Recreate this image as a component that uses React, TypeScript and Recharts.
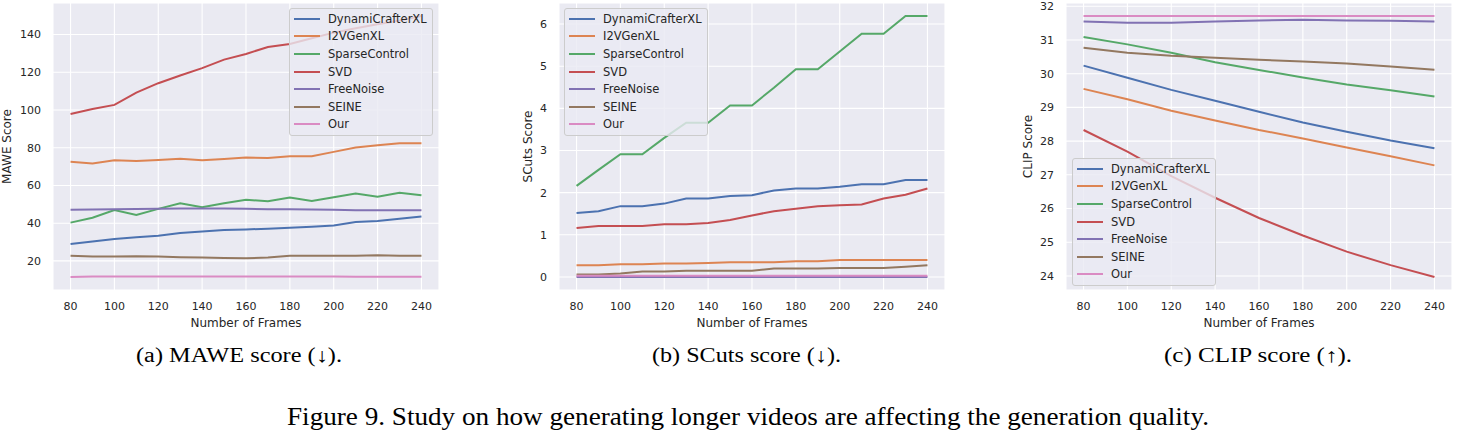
import React from "react";
import { LineChart, Line, XAxis, YAxis, CartesianGrid, Legend } from "recharts";

// x values (number of frames)
const frames = [80, 90, 100, 110, 120, 130, 140, 150, 160, 170, 180, 190, 200, 210, 220, 230, 240];
const clipFrames = [80, 100, 120, 140, 160, 180, 200, 220, 240];
const frameTicks = [80, 100, 120, 140, 160, 180, 200, 220, 240];

const seriesNames = ["DynamiCrafterXL", "I2VGenXL", "SparseControl", "SVD", "FreeNoise", "SEINE", "Our"];
const seriesColors = ["#4C72B0", "#DD8452", "#55A868", "#C44E52", "#8172B3", "#937860", "#DA8BC3"];

// (a) MAWE
const maweDyn = [29.0, 30.3, 31.6, 32.6, 33.3, 34.8, 35.6, 36.4, 36.7, 37.1, 37.6, 38.1, 38.8, 40.6, 41.2, 42.4, 43.6];
const maweI2v = [72.6, 71.7, 73.3, 73.0, 73.5, 74.2, 73.3, 74.0, 74.8, 74.6, 75.5, 75.5, 77.8, 80.1, 81.3, 82.4, 82.4];
const maweSparse = [40.3, 42.9, 47.0, 44.4, 47.6, 50.6, 48.4, 50.6, 52.4, 51.6, 53.6, 51.8, 53.8, 55.7, 54.0, 56.1, 54.8];
const maweSvd = [97.9, 100.5, 102.7, 109.2, 114.2, 118.3, 122.2, 126.7, 129.7, 133.4, 135.0, 138.0, 141.0, 143.3, 145.5, 147.4, 149.8];
const maweFree = [47.1, 47.2, 47.4, 47.5, 47.6, 47.8, 47.8, 47.8, 47.6, 47.4, 47.4, 47.2, 47.1, 46.9, 46.8, 46.8, 46.8];
const maweSeine = [22.8, 22.3, 22.3, 22.5, 22.3, 22.0, 21.8, 21.6, 21.4, 21.8, 22.7, 22.7, 22.7, 22.8, 23.0, 22.8, 22.7];
const maweOur = [11.5, 11.8, 11.8, 11.8, 11.7, 11.7, 11.7, 11.8, 11.8, 11.8, 11.8, 11.8, 11.7, 11.6, 11.6, 11.6, 11.6];
const maweTicks = [20, 40, 60, 80, 100, 120, 140];

// (b) SCuts
const scDyn = [1.52, 1.56, 1.68, 1.68, 1.74, 1.86, 1.86, 1.92, 1.94, 2.05, 2.1, 2.1, 2.14, 2.2, 2.2, 2.3, 2.3];
const scI2v = [0.28, 0.28, 0.3, 0.3, 0.32, 0.32, 0.33, 0.35, 0.35, 0.35, 0.37, 0.37, 0.4, 0.4, 0.4, 0.4, 0.4];
const scSparse = [2.16, 2.54, 2.91, 2.91, 3.3, 3.66, 3.66, 4.07, 4.07, 4.49, 4.93, 4.93, 5.35, 5.77, 5.77, 6.19, 6.19];
const scSvd = [1.16, 1.21, 1.21, 1.21, 1.25, 1.25, 1.28, 1.35, 1.46, 1.56, 1.62, 1.68, 1.7, 1.72, 1.86, 1.95, 2.1];
const scFree = [0, 0, 0, 0, 0, 0, 0, 0, 0, 0, 0, 0, 0, 0, 0, 0, 0];
const scSeine = [0.06, 0.06, 0.08, 0.13, 0.13, 0.15, 0.15, 0.15, 0.15, 0.2, 0.2, 0.2, 0.21, 0.21, 0.21, 0.24, 0.28];
const scOur = [0.03, 0.03, 0.03, 0.03, 0.03, 0.03, 0.03, 0.03, 0.03, 0.03, 0.03, 0.03, 0.03, 0.03, 0.03, 0.03, 0.03];
const scTicks = [0, 1, 2, 3, 4, 5, 6];

// (c) CLIP
const clipDyn = [30.24, 29.88, 29.52, 29.2, 28.87, 28.55, 28.28, 28.02, 27.79];
const clipI2v = [29.55, 29.24, 28.9, 28.61, 28.33, 28.08, 27.81, 27.55, 27.28];
const clipSparse = [31.09, 30.87, 30.62, 30.34, 30.11, 29.89, 29.68, 29.51, 29.32];
const clipSvd = [28.33, 27.69, 26.96, 26.32, 25.72, 25.2, 24.72, 24.32, 23.97];
const clipFree = [31.55, 31.51, 31.51, 31.55, 31.58, 31.6, 31.58, 31.57, 31.55];
const clipSeine = [30.77, 30.62, 30.53, 30.47, 30.41, 30.36, 30.3, 30.21, 30.12];
const clipOur = [31.71, 31.71, 31.71, 31.71, 31.71, 31.71, 31.71, 31.71, 31.71];
const clipTicks = [24, 25, 26, 27, 28, 29, 30, 31, 32];

const TEXT = "#262626";

function buildRows(xs: number[], cols: number[][]) {
  return xs.map((x, i) => {
    const row: Record<string, number> = { frames: x };
    seriesNames.forEach((n, k) => (row[n] = cols[k][i]));
    return row;
  });
}

function padDomain(cols: number[][]): [number, number] {
  const all = cols.flat();
  const lo = Math.min(...all);
  const hi = Math.max(...all);
  const m = (hi - lo) * 0.05;
  return [lo - m, hi + m];
}

function LegendBox(props: any) {
  const items = [...(props.payload || [])].sort(
    (a: any, b: any) => seriesNames.indexOf(a.value) - seriesNames.indexOf(b.value)
  );
  return (
    <div
      style={{
        background: "rgba(234,234,242,0.8)",
        border: "1px solid #cccccc",
        borderRadius: 3,
        padding: "1px 5px 2px 4px",
        fontFamily: "DejaVu Sans",
      }}
    >
      {items.map((e: any) => (
        <div key={e.value} style={{ display: "flex", alignItems: "center", height: 17.6 }}>
          <span style={{ display: "inline-block", width: 26, height: 2, background: e.color, marginRight: 8 }} />
          <span style={{ fontSize: 11.5, color: TEXT, whiteSpace: "nowrap" }}>{e.value}</span>
        </div>
      ))}
    </div>
  );
}

interface PanelProps {
  rows: Record<string, number>[];
  domain: [number, number];
  ticks: number[];
  yLabel: string;
  left: number;
  width: number;
  yAxisWidth: number;
  yLabelOffset: number;
  legendLeft: number;
  legendTop: number;
}

function Panel(p: PanelProps) {
  return (
    <div style={{ position: "absolute", left: p.left, top: 0 }}>
      <LineChart
        width={p.width}
        height={332}
        data={p.rows}
        margin={{ top: 3, right: 5, bottom: 0, left: 0 }}
        style={{ fontFamily: "DejaVu Sans" }}
      >
        <CartesianGrid fill="#EAEAF2" stroke="#ffffff" strokeWidth={1.1} />
        <XAxis
          dataKey="frames"
          type="number"
          domain={[72, 248]}
          ticks={frameTicks}
          axisLine={false}
          tickLine={false}
          tickSize={0}
          tickMargin={12}
          height={42}
          tick={{ fill: TEXT, fontSize: 11 }}
          label={{ value: "Number of Frames", position: "insideBottom", offset: 5, style: { fill: TEXT, fontSize: 12 } }}
        />
        <YAxis
          type="number"
          domain={p.domain}
          ticks={p.ticks}
          allowDataOverflow
          axisLine={false}
          tickLine={false}
          tickSize={0}
          tickMargin={12}
          width={p.yAxisWidth}
          tick={{ fill: TEXT, fontSize: 11 }}
          label={{
            value: p.yLabel,
            angle: -90,
            position: "insideLeft",
            offset: p.yLabelOffset,
            style: { textAnchor: "middle", fill: TEXT, fontSize: 12 },
          }}
        />
        <Legend
          layout="vertical"
          align="center"
          verticalAlign="middle"
          content={LegendBox}
          wrapperStyle={{ left: p.legendLeft, top: p.legendTop, width: "auto", height: "auto" }}
        />
        {seriesNames.map((n, k) => (
          <Line
            key={n}
            dataKey={n}
            name={n}
            stroke={seriesColors[k]}
            strokeWidth={2}
            dot={false}
            isAnimationActive={false}
          />
        ))}
      </LineChart>
    </div>
  );
}

const maweCols = [maweDyn, maweI2v, maweSparse, maweSvd, maweFree, maweSeine, maweOur];
const scCols = [scDyn, scI2v, scSparse, scSvd, scFree, scSeine, scOur];
const clipCols = [clipDyn, clipI2v, clipSparse, clipSvd, clipFree, clipSeine, clipOur];

export default function App() {
  return (
    <div
      style={{
        position: "absolute",
        left: 0,
        top: 0,
        width: 1457,
        height: 432,
        background: "#ffffff",
        overflow: "hidden",
      }}
    >
      <Panel
        rows={buildRows(frames, maweCols)}
        domain={padDomain(maweCols)}
        ticks={maweTicks}
        yLabel="MAWE Score"
        left={0}
        width={444}
        yAxisWidth={53}
        yLabelOffset={7}
        legendLeft={289}
        legendTop={8}
      />
      <Panel
        rows={buildRows(frames, scCols)}
        domain={padDomain(scCols)}
        ticks={scTicks}
        yLabel="SCuts Score"
        left={515}
        width={435}
        yAxisWidth={44}
        yLabelOffset={13}
        legendLeft={49}
        legendTop={8}
      />
      <Panel
        rows={buildRows(clipFrames, clipCols)}
        domain={padDomain(clipCols)}
        ticks={clipTicks}
        yLabel="CLIP Score"
        left={1020}
        width={437}
        yAxisWidth={46}
        yLabelOffset={8}
        legendLeft={52}
        legendTop={158}
      />
      <svg
        width={1457}
        height={432}
        style={{ position: "absolute", left: 0, top: 0, pointerEvents: "none" }}
        fontFamily="Liberation Serif"
        fill="#000"
      >
        <text x={136} y={362} fontSize={20} textLength={206} lengthAdjust="spacingAndGlyphs">
          (a) MAWE score (↓).
        </text>
        <text x={652} y={362} fontSize={20} textLength={189} lengthAdjust="spacingAndGlyphs">
          (b) SCuts score (↓).
        </text>
        <text x={1164} y={362} fontSize={20} textLength={188} lengthAdjust="spacingAndGlyphs">
          (c) CLIP score (↑).
        </text>
        <text x={287} y={425} fontSize={25} textLength={922} lengthAdjust="spacingAndGlyphs">
          Figure 9. Study on how generating longer videos are affecting the generation quality.
        </text>
      </svg>
    </div>
  );
}
